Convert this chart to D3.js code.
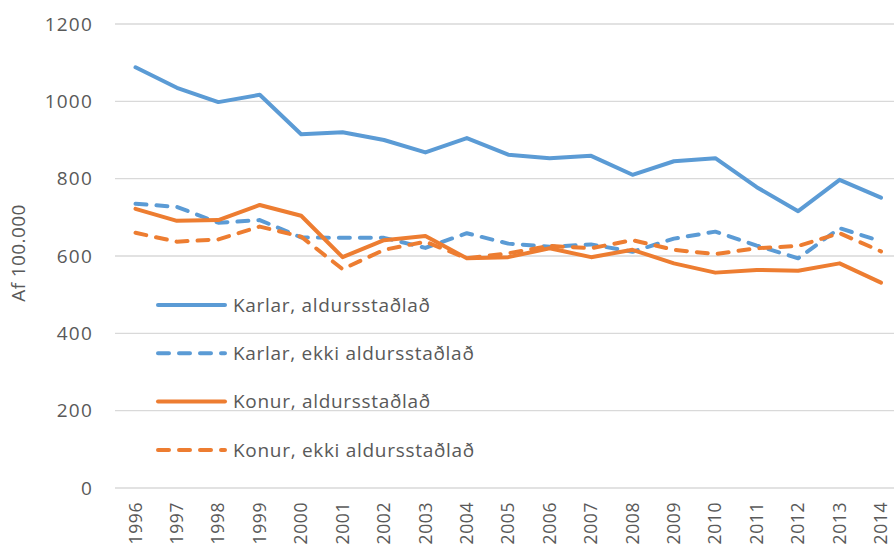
<!DOCTYPE html>
<html>
<head>
<meta charset="utf-8">
<script src="https://cdn.jsdelivr.net/npm/d3@7"></script>
<style>
body { margin: 0; background: #fff; }
svg { display: block; }
text { font-family: "Open Sans", sans-serif; fill: #595959; }
</style>
</head>
<body>
<div id="chart"></div>
<script>
var w = 894,
	h = 549;

var years = ["1996", "1997", "1998", "1999", "2000", "2001", "2002", "2003", "2004", "2005",
	"2006", "2007", "2008", "2009", "2010", "2011", "2012", "2013", "2014"];
var yTicks = [0, 200, 400, 600, 800, 1000, 1200];

var karlarStadlad = [1088, 1035, 998, 1017, 915, 920, 900, 868, 905, 862, 853, 859, 810, 845, 853, 778, 716, 797, 751];
var karlarEkki = [735, 727, 686, 693, 648, 647, 647, 621, 659, 632, 624, 630, 611, 645, 663, 627, 594, 672, 638];
var konurStadlad = [722, 691, 693, 732, 704, 597, 641, 652, 594, 597, 620, 597, 616, 581, 557, 564, 562, 581, 531];
var konurEkki = [660, 637, 643, 676, 650, 566, 616, 637, 594, 607, 626, 620, 641, 616, 605, 620, 626, 659, 612];

var seriesNames = ["Karlar, aldursstaðlað", "Karlar, ekki aldursstaðlað", "Konur, aldursstaðlað", "Konur, ekki aldursstaðlað"];
var seriesValues = [karlarStadlad, karlarEkki, konurStadlad, konurEkki];
var seriesColors = ["#5B9BD5", "#5B9BD5", "#ED7D31", "#ED7D31"];
var seriesDashed = [false, true, false, true];

var root = d3.select("#chart").append("svg").attr("width", w).attr("height", h);

var x = d3.scalePoint().domain(years).range([135.5, 881]);
var y = d3.scaleLinear().domain([0, 1200]).range([488, 24]);

// gridlines
root.append("g").selectAll("line").data(yTicks).enter().append("line")
	.attr("x1", 115).attr("x2", w)
	.attr("y1", function(d) { return y(d); }).attr("y2", function(d) { return y(d); })
	.style("stroke", "#D9D9D9").style("stroke-width", 1.3);

// y tick labels
root.append("g").selectAll("text").data(yTicks).enter().append("text")
	.attr("x", 93).attr("y", function(d) { return y(d); })
	.attr("dy", "0.35em").attr("text-anchor", "end")
	.style("font-size", "19px").style("letter-spacing", "1.2px")
	.text(function(d) { return d; });

// x tick labels (kept inside the bottom edge)
root.append("g").selectAll("text").data(years).enter().append("text")
	.attr("transform", function(d) { return "translate(" + x(d) + ",502) rotate(-90)"; })
	.attr("dy", "0.35em").attr("text-anchor", "end")
	.style("font-size", "17.5px").style("letter-spacing", "0.6px")
	.text(function(d) { return d; });

// axis title
root.append("text")
	.attr("transform", "translate(18,253) rotate(-90)")
	.attr("dy", "0.35em").attr("text-anchor", "middle")
	.style("font-size", "19px").style("letter-spacing", "0.4px")
	.text("Af 100.000");

var line = d3.line()
	.x(function(d, i) { return x(years[i]); })
	.y(function(d) { return y(d); });

for (var i = 0; i < seriesValues.length; i++) {
	root.append("path").datum(seriesValues[i])
		.attr("d", line)
		.style("fill", "none")
		.style("stroke", seriesColors[i])
		.style("stroke-width", 4)
		.style("stroke-linejoin", "round")
		.style("stroke-linecap", "round")
		.style("stroke-dasharray", seriesDashed[i] ? "11,10" : null);
}

// legend
var legend = root.append("g").selectAll("g").data(seriesNames).enter().append("g")
	.attr("transform", function(d, i) { return "translate(0," + (305 + i * 48.3) + ")"; });

legend.append("line")
	.attr("x1", 158).attr("x2", 225).attr("y1", 0).attr("y2", 0)
	.style("stroke", function(d, i) { return seriesColors[i]; })
	.style("stroke-width", 4)
	.style("stroke-linecap", "round")
	.style("stroke-dasharray", function(d, i) { return seriesDashed[i] ? "11,10" : null; });

legend.append("text")
	.attr("x", 233).attr("y", 0).attr("dy", "0.35em")
	.style("font-size", "19px").style("letter-spacing", "0.7px")
	.text(function(d) { return d; });
</script>
</body>
</html>
